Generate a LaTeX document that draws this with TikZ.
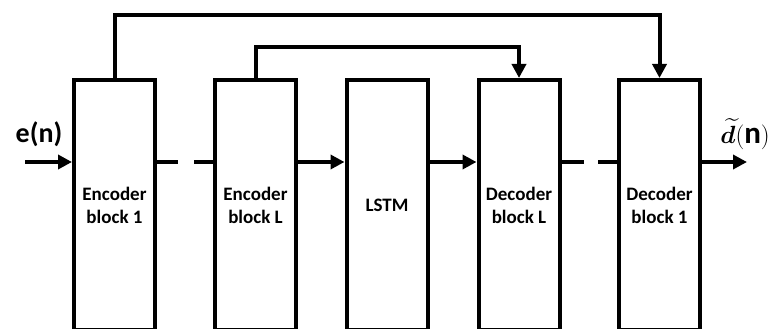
\documentclass[tikz,border=0pt]{standalone}
\usepackage{amsmath,bm}
\usepackage{fontspec}
\setmainfont{Carlito}
\usetikzlibrary{arrows.meta}
\begin{document}
\begin{tikzpicture}[x=1pt,y=-1pt,
  blk/.style={draw, line width=4pt, minimum width=81pt, minimum height=250pt,
    inner sep=0pt, align=center, font=\fontsize{19}{23}\selectfont\bfseries},
  conn/.style={line width=4pt},
  arr/.style={conn, -{Triangle[length=14pt,width=14pt]}}]
\useasboundingbox (0,0) rectangle (771,329);
\node[blk] (b1) at (114.5,205) {Encoder\\block 1};
\node[blk] (b2) at (255.5,205) {Encoder\\block L};
\node[blk] (b3) at (387,205) {LSTM};
\node[blk] (b4) at (519,205) {Decoder\\block L};
\node[blk] (b5) at (659.5,205) {Decoder\\block 1};
\coordinate (row) at (0,162);
\coordinate (top1) at (0,15);
\coordinate (top2) at (0,47);
\coordinate (inL) at (25,162);
\coordinate (outR) at (747,162);
\node[anchor=base, inner sep=0pt, font=\fontsize{28}{28}\selectfont\bfseries] (lin) at (39,142) {e(n)};
\node[anchor=base east, inner sep=0pt, font=\fontsize{31}{31}\selectfont] (lout) at (770,143) {$\widetilde{\bm{d}}(\mathbf{n})$};
% input / output
\draw[arr] (inL) -- (inL -| b1.west);
\draw[arr] (b5.east |- row) -- (outR);
% chain
\draw[conn, dash pattern=on 21pt off 16pt on 40pt] (b1.east |- row) -- (b2.west |- row);
\draw[arr] (b2.east |- row) -- (b3.west |- row);
\draw[arr] (b3.east |- row) -- (b4.west |- row);
\draw[conn, dash pattern=on 22.5pt off 14pt on 40pt] (b4.east |- row) -- (b5.west |- row);
% skip connections
\draw[arr] (b1.north) -- (b1.north |- top1) -| (b5.north);
\draw[arr] (b2.north) -- (b2.north |- top2) -| (b4.north);
\end{tikzpicture}
\end{document}
